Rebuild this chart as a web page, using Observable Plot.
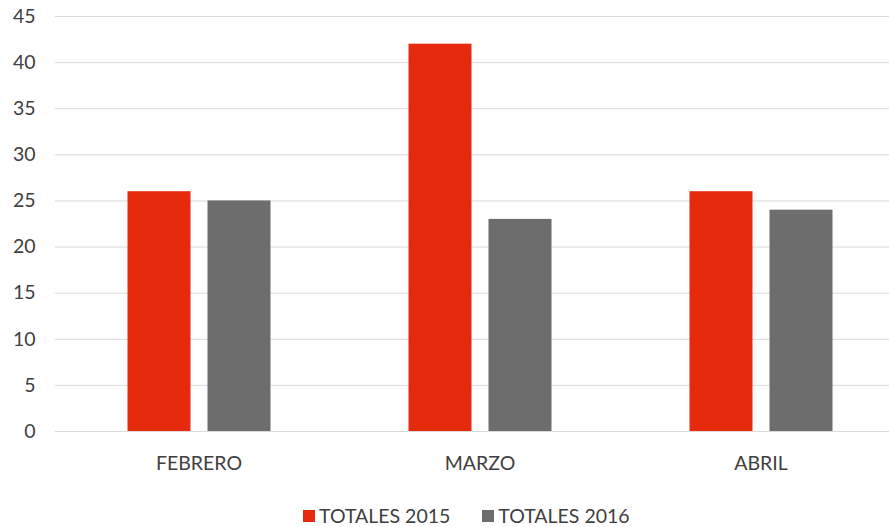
<!DOCTYPE html>
<html>
<head>
<meta charset="utf-8">
<script src="https://cdn.jsdelivr.net/npm/d3@7"></script>
<script src="https://cdn.jsdelivr.net/npm/@observablehq/plot@0.6"></script>
<style>
  html, body { margin: 0; padding: 0; background: #fff; }
  #chart { width: 889px; }
  .legend { display: flex; justify-content: flex-start; gap: 32px; padding-left: 303px; margin-top: 20px;
    font-family: Lato, sans-serif; font-size: 19.5px; line-height: 22px; color: #404040; }
  .legend span.item { display: flex; align-items: center; }
  .legend span.sw { display: inline-block; width: 12px; height: 12px; margin-right: 4px; }
</style>
</head>
<body>
<div id="chart"></div>
<script>
const months = ["FEBRERO", "MARZO", "ABRIL"];
const series = ["TOTALES 2015", "TOTALES 2016"];
const totales2015 = [26, 42, 26];
const totales2016 = [25, 23, 24];
const colors = ["#e62a0e", "#6d6d6d"];
const yTicks = [0, 5, 10, 15, 20, 25, 30, 35, 40, 45];

const data = [];
months.forEach((m, i) => {
  data.push({month: m, serie: series[0], value: totales2015[i]});
  data.push({month: m, serie: series[1], value: totales2016[i]});
});

const font = "Lato, sans-serif";
const chart = Plot.plot({
  width: 889,
  height: 485,
  marginLeft: 55,
  marginRight: 0,
  marginTop: 16,
  marginBottom: 54,
  style: {fontFamily: font, fontSize: "19.5px", color: "#404040", background: "#fff"},
  x: {domain: months, range: [57.5, 901.5], padding: 0, label: null},
  y: {domain: [0, 45], label: null},
  color: {domain: series, range: colors},
  marks: [
    Plot.ruleY(yTicks, {stroke: "#d9d9d9", strokeWidth: 1}),
    Plot.barY(data.filter(d => d.serie === series[0]), {x: "month", y: "value", fill: "serie", insetLeft: 69.5, insetRight: 148.5}),
    Plot.barY(data.filter(d => d.serie === series[1]), {x: "month", y: "value", fill: "serie", insetLeft: 149.5, insetRight: 68.5}),
    Plot.axisY({ticks: yTicks, tickSize: 0, tickPadding: 20, fontSize: "19.5px", fill: "#404040"}),
    Plot.axisX({tickSize: 0, tickPadding: 25, fontSize: "19.5px", fill: "#404040"})
  ]
});
document.getElementById("chart").appendChild(chart);

const legend = document.createElement("div");
legend.className = "legend";
series.forEach((s, i) => {
  const item = document.createElement("span");
  item.className = "item";
  const sw = document.createElement("span");
  sw.className = "sw";
  sw.style.background = colors[i];
  item.appendChild(sw);
  item.appendChild(document.createTextNode(s));
  legend.appendChild(item);
});
document.getElementById("chart").appendChild(legend);
</script>
</body>
</html>
